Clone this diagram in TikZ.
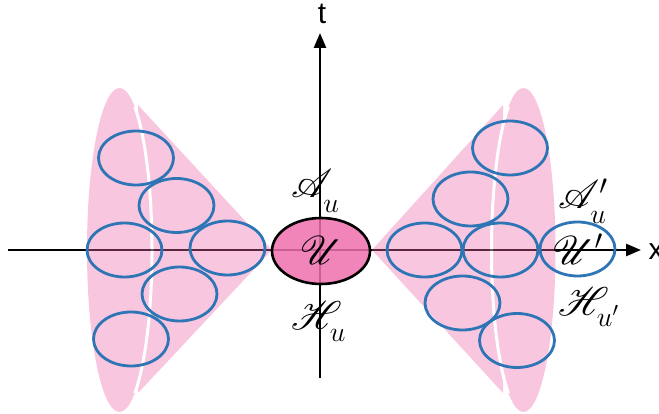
\RequirePackage{fix-cm}
\documentclass[tikz,border=0pt]{standalone}
\usepackage{fontspec}
\usepackage{mathrsfs}
\DeclareFontFamily{U}{rsfs}{\skewchar\font127 }
\DeclareFontShape{U}{rsfs}{m}{n}{<-6>rsfs5<6-8>rsfs7<8->rsfs10}{}
\newfontfamily\cneixofonte{Liberation Sans}
\newcommand\cnind[2][-9pt]{_{\raisebox{#1}{$\scriptstyle #2$}}}
\usetikzlibrary{arrows.meta,shapes.geometric}
\definecolor{cnrosa}{RGB}{237,105,168}
\definecolor{cnrosaforte}{RGB}{238,112,174}
\definecolor{cnazul}{HTML}{2E75B6}
\tikzset{
  cneixo/.style={line width=2.6pt, -{Triangle[length=15pt, width=12pt]}},
  cnbolha/.style={ellipse, draw=cnazul, line width=2.8pt, minimum width=75pt,
                  minimum height=54pt, inner sep=0pt},
  cncentro/.style={ellipse, draw=black, line width=2.6pt, fill=cnrosaforte,
                  fill opacity=0.85, text opacity=1, minimum width=98pt,
                  minimum height=66pt, inner sep=0pt, font=\fontsize{40}{48}\selectfont},
  cnrotulo/.style={font=\fontsize{40}{48}\selectfont, inner sep=0pt},
  cneixorotulo/.style={font=\cneixofonte\fontsize{30}{36}\selectfont, inner sep=0pt},
}

\begin{document}
\begin{tikzpicture}[x=1pt, y=-1pt]
    \useasboundingbox (0,0) rectangle (659,414);
    % eixos
    \coordinate (xini) at (8,250);
    \coordinate (xfim) at (641,250);
    \coordinate (tini) at (320,378);
    \coordinate (tfim) at (320,33);
    \draw[cneixo] (xini) -- (xfim);
    \draw[cneixo] (tini) -- (tfim);
    \node[cneixorotulo, anchor=base] (rotx) at (656,260) {x};
    \node[cneixorotulo, anchor=base] (rott) at (322,23.5) {t};
    % cones em rosa
    \begin{scope}[transparency group, opacity=0.38]
        \fill[cnrosa] (119.5,250) ellipse [x radius=32.5, y radius=162];
        \fill[cnrosa] (272,250) -- (138,105) -- (138,393) -- cycle;
        \draw[white, line width=3pt] (119.5,250) ++(-62:32.5 and 162)
            arc [start angle=-62, end angle=62, x radius=32.5, y radius=162];
        \fill[cnrosa] (523.5,250) ellipse [x radius=32, y radius=162];
        \fill[cnrosa] (372,250) -- (503,105) -- (503,393) -- cycle;
        \draw[white, line width=3pt] (523.5,250) ++(118:32 and 162)
            arc [start angle=118, end angle=242, x radius=32, y radius=162];
    \end{scope}
    % regiao central
    \node[cncentro] (U) at (321,251) {$\mathscr{U}$};
    % bolhas da esquerda
    \node[cnbolha] (e1) at (136,158) {};
    \node[cnbolha] (e2) at (176.5,205.5) {};
    \node[cnbolha] (e3) at (124.5,250) {};
    \node[cnbolha] (e4) at (227.5,248) {};
    \node[cnbolha] (e5) at (179.5,294) {};
    \node[cnbolha] (e6) at (131,339) {};
    % bolhas da direita
    \node[cnbolha] (d1) at (510,148) {};
    \node[cnbolha] (d2) at (470.5,199) {};
    \node[cnbolha] (d3) at (424.5,250) {};
    \node[cnbolha] (d4) at (500.5,250) {};
    \node[cnbolha] (d5) at (462.5,303) {};
    \node[cnbolha] (d6) at (517,340.5) {};
    \node[cnbolha, cnrotulo] (Ul) at (577.5,249) {$\mathscr{U}'$};
    % rotulos
    \node[cnrotulo, anchor=base west] (Au) at (291,198) {$\mathscr{A}\cnind{u}$};
    \node[cnrotulo, anchor=base west] (Hu) at (291,329) {$\mathscr{H}\cnind[-7pt]{u}$};
    \node[cnrotulo, anchor=base west] (Aul) at (558,209) {$\mathscr{A}'\cnind[-5pt]{u}$};
    \node[cnrotulo, anchor=base west] (Hul) at (558,316) {$\mathscr{H}\cnind[-5pt]{u'}$};
\end{tikzpicture}
\end{document}
